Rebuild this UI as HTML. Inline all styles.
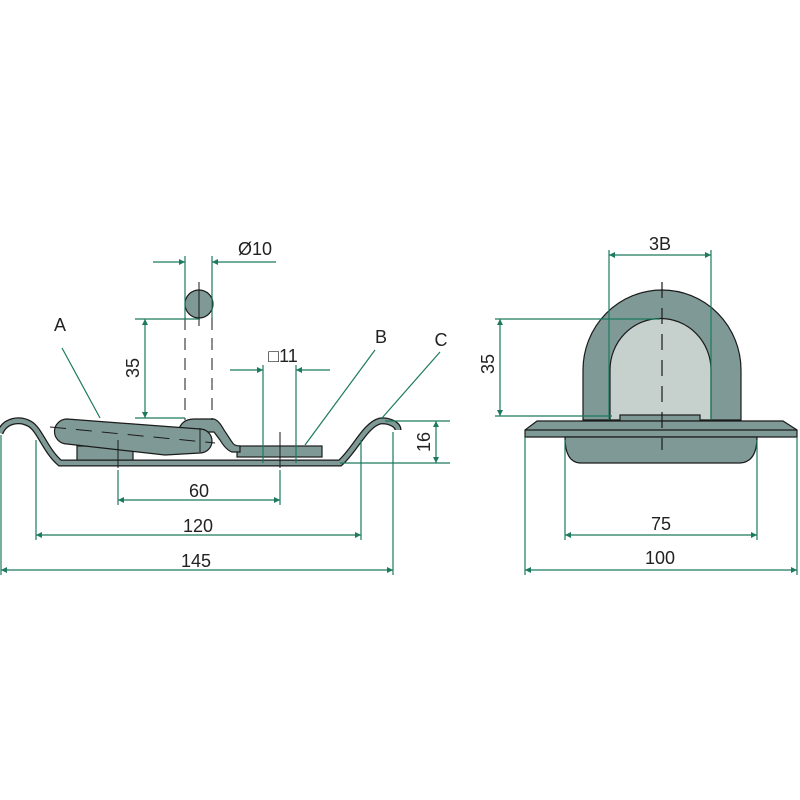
<!DOCTYPE html>
<html><head><style>html,body{margin:0;padding:0;background:#fff}svg{display:block}</style></head>
<body>
<svg width="800" height="800" viewBox="0 0 800 800" xmlns="http://www.w3.org/2000/svg" font-family="Liberation Sans, sans-serif">
<defs>
<marker id="ar" viewBox="0 0 10 10" refX="10" refY="5" markerWidth="10" markerHeight="6" orient="auto-start-reverse" markerUnits="userSpaceOnUse"><path d="M0,0 L10,5 L0,10 z" fill="#1c7a5e"/></marker>
</defs>
<g fill="#7f9a96" stroke="#1a1a1a" stroke-width="1.2">
<rect x="77" y="446" width="56" height="17"/>
<path d="M0,433 C5,420 20,418 30,424 C40,430 45,450 60,463 L340,463 C355,450 365,425 380,421 C390,420 398,425 398,430" fill="none" stroke="#1a1a1a" stroke-width="7"/>
<path d="M0,433 C5,420 20,418 30,424 C40,430 45,450 60,463 L340,463 C355,450 365,425 380,421 C390,420 398,425 398,430" fill="none" stroke="#7f9a96" stroke-width="4.5"/>
<rect x="237" y="446" width="85" height="11"/>
<path d="M178,432 Q181,419 194,419 L213,419 Q218,419 224,430 L232,442 Q234,446 240,446 L240,452 L232,452 Q226,450 220,440 L214,432 Z"/>
<path d="M67,419 L200,429 A12,12 0 0 1 200,453 L165,455 L67,444 A12.5,12.5 0 0 1 67,419 z"/>
<circle cx="199" cy="304" r="14"/>
</g>
<g stroke="#1a1a1a" stroke-width="1" fill="none">
<path d="M185,318 V420 M212,318 V420" stroke-dasharray="12,8"/>
<path d="M199,282 V326" />
<path d="M50,427 L215,443" stroke-dasharray="16,10"/>
<path d="M118,440 V468 M280,432 V468 M263,440 V462 M296,440 V462 M200,428 V452"/>
</g>
<g stroke="#1a1a1a" stroke-width="1.2">
<path d="M583,420 L583,370 A79,80 0 0 1 741,370 L741,420 z" fill="#7f9a96"/>
<path d="M610,420 L610,370 A50,51 0 0 1 711,370 L711,420 z" fill="#c6d0cd"/>
<rect x="620" y="415" width="80" height="6" fill="#7f9a96"/>
<path d="M537,421 L783,421 L797,430 L797,437 L525,437 L525,430 z" fill="#7f9a96"/>
<path d="M525,430 L797,430" fill="none"/>
<path d="M565,437 L757,437 Q757,462 740,463 L580,463 Q565,462 565,437 z" fill="#7f9a96"/>
<path d="M662,282 V450" fill="none" stroke-dasharray="16,10"/>
</g>
<g stroke="#1c7a5e" stroke-width="1.2" fill="none">
<path d="M153,262 H185" marker-end="url(#ar)"/><path d="M276,262 H212" marker-end="url(#ar)"/>
<path d="M185,256 V318 M212,256 V318"/>
<path d="M135,319 H200 M135,418 H185"/>
<path d="M145,319 V418" marker-start="url(#ar)" marker-end="url(#ar)"/>
<path d="M230,370 H263" marker-end="url(#ar)"/><path d="M330,370 H296" marker-end="url(#ar)"/>
<path d="M263,365 V463 M296,365 V463"/>
<path d="M385,421 H450 M340,463 H450"/>
<path d="M436,421 V463" marker-start="url(#ar)" marker-end="url(#ar)"/>
<path d="M118,470 V505 M280,470 V505"/>
<path d="M118,500 H280" marker-start="url(#ar)" marker-end="url(#ar)"/>
<path d="M36,440 V540 M361,440 V540"/>
<path d="M36,535 H361" marker-start="url(#ar)" marker-end="url(#ar)"/>
<path d="M1,435 V575 M393,432 V575"/>
<path d="M1,570 H393" marker-start="url(#ar)" marker-end="url(#ar)"/>
<path d="M62,348 L100,418 M375,350 L305,445 M440,352 L382,418"/>
<path d="M609,250 V420 M711,250 V420"/>
<path d="M609,255 H711" marker-start="url(#ar)" marker-end="url(#ar)"/>
<path d="M495,319 H660 M495,416 H612"/>
<path d="M500,319 V416" marker-start="url(#ar)" marker-end="url(#ar)"/>
<path d="M565,440 V540 M757,440 V540"/>
<path d="M565,535 H757" marker-start="url(#ar)" marker-end="url(#ar)"/>
<path d="M525,437 V575 M797,437 V575"/>
<path d="M525,570 H797" marker-start="url(#ar)" marker-end="url(#ar)"/>
</g>
<g fill="#222" font-size="18" text-anchor="middle">
<text x="255" y="255">Ø10</text>
<text x="60" y="331">A</text>
<text x="381" y="343">B</text>
<text x="441" y="346">C</text>
<text x="283" y="362">□11</text>
<text x="199" y="497">60</text>
<text x="198" y="532">120</text>
<text x="196" y="567">145</text>
<text x="660" y="250">3B</text>
<text x="661" y="530">75</text>
<text x="660" y="564">100</text>
<text transform="translate(139,368) rotate(-90)">35</text>
<text transform="translate(494,364) rotate(-90)">35</text>
<text transform="translate(430,442) rotate(-90)">16</text>
</g>
</svg>
</body></html>
